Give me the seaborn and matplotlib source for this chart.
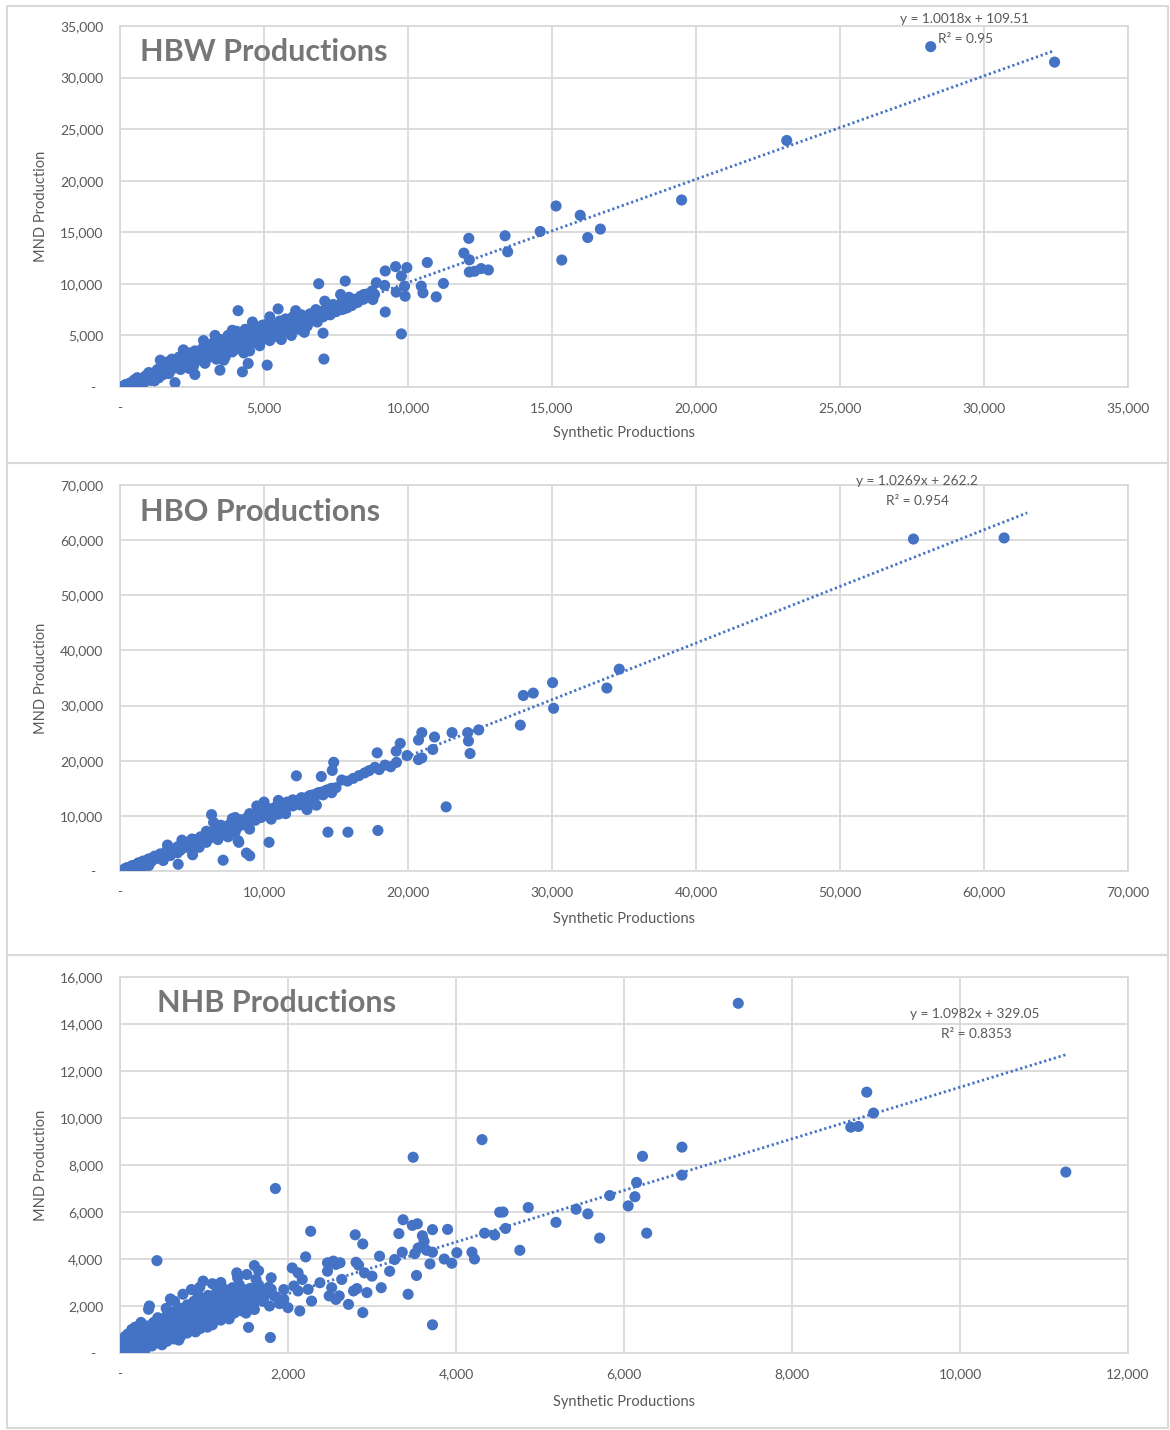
import matplotlib
matplotlib.use("Agg")
import matplotlib.pyplot as plt
import numpy as np
import pandas as pd
import seaborn as sns
from matplotlib.patches import Rectangle
from matplotlib.ticker import FuncFormatter, MultipleLocator

# ---------------------------------------------------------------------------
# Zone productions: synthetic model (x) versus MND observed (y)
# ---------------------------------------------------------------------------
hbw_points = [
    (28150, 33000), (32450, 31500), (23150, 23900), (19500, 18130), (15140, 17550),
    (15980, 16650), (16680, 15310), (16240, 14490), (14590, 15080), (15340, 12310),
    (13370, 14660), (13460, 13110), (12110, 14410), (11940, 12980), (12130, 12330),
    (12130, 11150), (12310, 11220), (12540, 11480), (12790, 11350), (10670, 12070),
    (11230, 10040), (10980, 8740), (10460, 9780), (10520, 9130), (9570, 11670),
    (9960, 11580), (9770, 10760), (9880, 9780), (9590, 9200), (9900, 8800),
    (9210, 11250), (9770, 5150), (9210, 7270), (8900, 10110), (9190, 9850),
    (8840, 8970), (8780, 8480), (8470, 8970), (7820, 10270), (6900, 10010),
    (7660, 8970), (7080, 2710), (7050, 5220), (7110, 8320), (4100, 7400),
    (5490, 7570), (5110, 2120), (4450, 2280), (4250, 1470), (3470, 1630),
    (2600, 1210), (1910, 420),
    (100, 80), (200, 250), (300, 150), (350, 400), (450, 300), (550, 550),
    (650, 420), (700, 750), (800, 600), (850, 950), (950, 800), (1000, 1150),
    (1050, 650), (1100, 1000), (1150, 1350), (1250, 1150), (1300, 1700),
    (1350, 900), (1400, 1400), (1450, 2000), (1500, 1200), (1550, 1650),
    (1600, 2400), (1650, 1900), (1700, 1300), (1750, 2200), (1800, 2700),
    (1850, 1800), (1900, 2450), (2000, 2100), (2050, 2900), (2100, 1700),
    (2150, 2500), (2200, 3100), (2250, 2200), (2300, 2800), (2400, 3300),
    (2450, 2500), (2500, 3000), (2550, 2000), (2600, 3500), (2650, 2800),
    (2700, 3200), (2800, 2600), (2850, 3700), (2900, 3100), (2950, 2300),
    (3000, 3400), (3050, 4000), (3100, 2900), (3150, 3600), (3200, 3200),
    (3250, 4300), (3300, 3700), (3350, 2700), (3400, 3900), (3450, 3300),
    (3500, 4600), (3550, 4100), (3600, 3500), (3650, 2900), (3700, 4200),
    (3750, 5000), (3800, 3800), (3850, 4400), (3900, 3400), (3950, 4800),
    (4000, 4100), (4050, 5400), (4100, 3700), (4150, 4500), (4200, 5100),
    (4250, 3900), (4300, 4700), (4350, 5600), (4400, 4200), (4450, 4900),
    (4500, 3500), (4550, 5300), (4600, 4600), (4650, 5800), (4700, 4300),
    (4750, 5000), (4800, 5500), (4850, 4000), (4900, 5200), (4950, 6000),
    (5000, 4700), (5050, 5500), (5100, 5100), (5150, 6200), (5200, 4500),
    (5250, 5700), (5300, 5300), (5400, 6000), (5450, 4900), (5500, 5600),
    (5550, 6400), (5600, 5200), (5700, 5900), (5750, 6600), (5800, 5400),
    (5900, 6200), (5950, 5000), (6000, 6800), (6050, 5800), (6150, 6400),
    (6200, 5600), (6300, 7000), (6350, 6100), (6450, 6600), (6500, 5900),
    (6600, 7100), (6650, 6400), (6750, 6900), (6800, 7500), (6850, 6300),
    (6950, 7200), (7050, 6800), (7150, 7600), (7250, 7100), (7350, 7400),
    (7400, 8000), (7500, 7300), (7600, 7800), (7700, 8200), (7800, 7600),
    (7900, 8100), (7950, 8700), (8050, 7900), (8150, 8500), (8250, 8200),
    (8350, 8800), (8450, 8500), (8550, 9000), (8650, 8700), (8750, 9300),
    (3300, 5000), (2900, 4500), (3900, 5500), (1400, 2600), (2200, 3600),
    (4600, 6300), (5200, 6800), (6100, 7400), (2400, 1800), (3600, 2600),
    (4300, 3300), (5600, 4600), (6400, 5300), (1200, 600), (800, 300),
    (500, 700), (700, 400), (900, 1100), (1100, 700), (1300, 1300), (1500, 1600),
    (1700, 2000), (1900, 1900), (2100, 2600), (2300, 2300), (2500, 2700),
    (2700, 2900), (2900, 2700), (3100, 3300), (3300, 3200), (3500, 3800),
    (3700, 3600), (3900, 4100), (4100, 4300), (4300, 4100), (4500, 4800),
    (4700, 4700), (4900, 4500), (5100, 5600), (5300, 4900), (5500, 5200),
    (5700, 5500), (5900, 5700), (6100, 6100), (6300, 6400), (6500, 6300),
    (6700, 6700), (6900, 6700), (7100, 7100), (7300, 7000), (7500, 7700),
    (7700, 7500), (7900, 7700), (8100, 8200), (8300, 8400), (8500, 8700),
    (600, 900), (1000, 1400), (1400, 1800), (1800, 2300), (2200, 2000),
    (2600, 2500), (3000, 3000), (3400, 3500), (3800, 4200), (4200, 4400),
    (4600, 5100), (5000, 5000), (5400, 5500), (5800, 6000), (6200, 6700),
    (6600, 6800), (7000, 7300),
]

hbo_points = [
    (61400, 60400), (55100, 60200), (34670, 36600), (33810, 33180), (30040, 34160),
    (30110, 29510), (28010, 31830), (28700, 32260), (27800, 26450), (24910, 25590),
    (24150, 25100), (24200, 23570), (24310, 21300), (23060, 25100), (21840, 24300),
    (20960, 25100), (20730, 23750), (21720, 22040), (20730, 20200), (20960, 20510),
    (22650, 11630), (19940, 20940), (19460, 23140), (19180, 21730), (17910, 7350),
    (15830, 7040), (14440, 7040), (17860, 21430), (14840, 19710), (14740, 18240),
    (12250, 17260), (13980, 17140), (14680, 15000), (12990, 11140), (13640, 11940),
    (10350, 5200), (8200, 5510), (8250, 5200), (8780, 3250), (9010, 2760),
    (7160, 1960), (4040, 1220), (5040, 2940), (6360, 10220),
    (200, 150), (400, 500), (600, 400), (800, 900), (1000, 700), (1200, 1300),
    (1400, 1000), (1600, 1800), (1800, 1500), (2000, 2200), (2200, 1800),
    (2400, 2700), (2600, 2300), (2800, 3100), (3000, 2700), (3200, 3500),
    (3400, 3000), (3600, 3900), (3800, 3400), (4000, 4400), (4200, 3800),
    (4400, 4800), (4600, 4300), (4800, 5300), (5000, 4700), (5200, 5700),
    (5400, 5100), (5600, 6200), (5800, 5500), (6000, 6600), (6200, 5900),
    (6400, 7000), (6600, 6300), (6800, 7500), (7000, 6800), (7200, 8000),
    (7400, 7200), (7600, 8400), (7800, 7600), (8000, 8800), (8200, 8000),
    (8400, 9300), (8600, 8400), (8800, 9600), (9000, 8900), (9200, 10000),
    (9400, 9200), (9600, 10500), (9800, 9700), (10000, 10900), (10200, 10100),
    (10400, 11300), (10600, 10600), (10800, 11600), (11000, 11000), (11200, 12100),
    (11400, 11400), (11600, 12500), (11800, 11900), (12000, 12900), (12300, 12400),
    (12600, 13300), (12900, 12800), (13200, 13700), (13500, 13300), (13800, 14200),
    (14100, 13800), (14400, 14700), (14700, 14200), (15000, 15100), (15400, 16500),
    (15800, 16300), (16200, 16800), (16600, 17300), (17000, 17800), (17300, 18200),
    (17700, 18800), (18000, 18400), (18400, 19200), (18800, 18900), (19200, 19700),
    (6500, 8800), (7800, 9500), (3300, 4700), (4300, 5600), (9500, 11800),
    (11000, 12800), (10000, 12500), (12000, 11800), (8000, 7100), (5500, 4300),
    (6800, 5700), (7500, 6200), (9000, 7600), (3000, 1900), (2000, 1000),
    (1500, 500), (10500, 9400), (11500, 10400), (13000, 11800),
    (300, 300), (500, 600), (700, 700), (900, 1000), (1100, 1100), (1300, 1500),
    (1500, 1400), (1700, 1700), (1900, 2000), (2100, 2100), (2300, 2400),
    (2500, 2500), (2700, 2800), (2900, 3000), (3100, 3100), (3300, 3400),
    (3500, 3500), (3700, 3800), (3900, 3900), (4100, 4200), (4300, 4400),
    (4500, 4600), (4700, 4800), (4900, 5000), (5100, 5300), (5300, 5400),
    (5500, 5700), (5700, 5900), (5900, 6100), (6100, 6300), (6300, 6500),
    (6500, 6700), (6700, 6900), (6900, 7200), (7100, 7300), (7300, 7600),
    (7500, 7800), (7700, 8000), (7900, 8200), (8100, 8400), (8300, 8700),
    (8500, 8800), (8700, 9100), (8900, 9200), (9100, 9500), (9300, 9700),
    (9500, 9800), (9700, 10100), (9900, 10300), (10100, 10500), (10300, 10700),
    (10500, 10900), (10700, 11100), (10900, 11300), (11100, 11500), (11300, 11800),
    (11500, 11900), (11700, 12200), (11900, 12300), (12200, 12700), (12500, 12900),
    (12800, 13200), (13100, 13500), (13400, 13800), (13700, 14100), (14000, 14300),
    (14300, 14600), (3500, 2800), (5000, 5800), (6000, 7200), (7000, 8300),
    (8000, 9700), (9000, 10400), (10000, 11500), (4000, 3300), (6000, 5200),
    (8000, 7600), (11000, 10300), (12500, 12000),
]

nhb_points = [
    (7360, 14880), (11260, 7700), (8890, 11100), (8970, 10210), (8700, 9610),
    (8790, 9640), (6690, 8760), (6690, 7570), (6270, 5100), (6220, 8370),
    (6150, 7260), (6130, 6650), (6050, 6260), (5830, 6700), (5710, 4890),
    (5570, 5920), (5430, 6120), (5190, 5560), (4860, 6190), (4520, 5990),
    (4560, 6000), (4590, 5300), (4340, 5100), (4460, 5020), (4760, 4370),
    (4190, 4290), (4220, 4000), (4010, 4270), (3900, 5260), (3950, 3820),
    (3860, 4000), (3720, 5250), (3720, 1200), (4310, 9080), (3490, 8330),
    (1850, 7000), (3370, 5670), (3480, 5430), (3540, 5500), (3320, 5080),
    (3600, 4990), (3620, 4750), (3550, 4470), (3650, 4370), (3720, 4290),
    (3510, 4230), (3360, 4290), (3270, 3980), (3690, 3790), (3530, 3300),
    (3430, 2500), (3210, 3480), (3090, 4120), (3110, 2780), (3000, 3270),
    (2910, 3410), (2940, 2570), (2800, 5030), (2890, 4640), (2890, 1720),
    (2810, 3860), (2840, 3740), (2780, 2640), (2820, 2740), (2720, 2070),
    (2620, 3840), (2640, 3130), (2470, 3840), (2540, 3910), (2570, 3770),
    (2470, 3480), (2520, 2780), (2490, 2430), (2610, 2430), (2570, 2280),
    (2380, 2990), (2270, 5180), (2210, 4090), (2240, 2710), (2280, 2210),
    (2140, 1790), (2050, 3620), (2120, 3410), (2170, 3130), (2070, 2850),
    (2120, 2640), (1950, 2280), (2000, 1930), (1800, 3200), (1800, 2710),
    (1790, 660), (1600, 3720), (1620, 3130), (1510, 3340), (1390, 3410),
    (1340, 2780), (990, 3060), (920, 2570), (440, 3930), (340, 1860),
    (1530, 1090),
    (30, 100), (60, 300), (80, 500), (100, 200), (120, 650), (150, 400),
    (180, 150), (200, 800), (220, 550), (250, 300), (260, 1000), (280, 700),
    (300, 450), (320, 1150), (340, 850), (360, 600), (380, 300), (400, 1300),
    (420, 1000), (440, 750), (460, 500), (480, 1450), (500, 1150), (520, 850),
    (540, 600), (560, 1600), (580, 1300), (600, 1000), (620, 700), (640, 1750),
    (660, 1450), (680, 1150), (700, 850), (720, 1900), (740, 1600), (760, 1300),
    (780, 1000), (800, 2050), (820, 1750), (840, 1450), (860, 1150), (880, 2200),
    (900, 1900), (920, 1600), (940, 1300), (960, 2350), (980, 2050), (1000, 1750),
    (1020, 1450), (1050, 2450), (1080, 2150), (1100, 1850), (1120, 1550),
    (1150, 2600), (1180, 2300), (1200, 2000), (1220, 1700), (1250, 2700),
    (1280, 2400), (1300, 2100), (1320, 1800), (1350, 2500), (1380, 2200),
    (1400, 1900), (1420, 2900), (1450, 2600), (1480, 2300), (1500, 2000),
    (1550, 2750), (1580, 2450), (1600, 2150), (1650, 2900), (1680, 2500),
    (1700, 2200), (1750, 2600), (1780, 2000), (1850, 2400), (1900, 2100),
    (1950, 2700), (150, 900), (250, 1300), (350, 1100), (450, 1500), (550, 1900),
    (650, 2200), (750, 2500), (850, 2700), (950, 2800), (300, 150), (500, 350),
    (700, 550), (900, 900), (1100, 1200), (1300, 1450), (1500, 1700), (50, 50),
    (120, 150), (200, 100), (90, 800), (350, 2000), (600, 2300), (1100, 2950),
    (1200, 3000), (1650, 3500), (1400, 3200),
    (40, 250), (70, 150), (100, 450), (130, 300), (160, 600), (190, 350),
    (210, 500), (230, 750), (270, 500), (290, 900), (310, 650), (330, 400),
    (370, 800), (390, 1150), (410, 550), (430, 900), (470, 1200), (490, 700),
    (510, 1000), (530, 1350), (550, 800), (570, 1100), (590, 1500), (610, 850),
    (630, 1200), (650, 1600), (670, 950), (690, 1300), (710, 1700), (730, 1100),
    (750, 1400), (770, 1800), (790, 1200), (810, 1550), (830, 1900), (850, 1300),
    (870, 1650), (890, 2000), (910, 1400), (930, 1750), (950, 2100), (970, 1500),
    (990, 1850), (1010, 2200), (1030, 1600), (1060, 1950), (1090, 2300),
    (1110, 1700), (1140, 2050), (1170, 2400), (1190, 1800), (1230, 2150),
    (1260, 2500), (1290, 1900), (1330, 2300), (1360, 2650), (1390, 2000),
    (1430, 2400), (1470, 2700), (1520, 2200), (1560, 2550), (1620, 2350),
    (1670, 2700), (1720, 2400), (1770, 2800), (20, 400), (40, 600), (60, 700),
    (140, 1000), (180, 1100), (240, 1200), (110, 100), (160, 200), (230, 200),
    (280, 250), (330, 350), (400, 450), (480, 400), (560, 500), (640, 600),
    (720, 700), (800, 850), (880, 950), (960, 1050), (1040, 1100), (1120, 1350),
    (1200, 1400), (1280, 1600), (1360, 1700), (1440, 1800), (1520, 1900),
    (1600, 1850),
]

panel_titles = ["HBW Productions", "HBO Productions", "NHB Productions"]
trend_slopes = [1.0018, 1.0269, 1.0982]
trend_intercepts = [109.51, 262.2, 329.05]
trend_r2 = ["0.95", "0.954", "0.8353"]
trend_forward = [0, 1600, 0]
axis_max = [35000, 70000, 16000]
x_axis_max = [35000, 70000, 12000]
tick_steps_y = [5000, 10000, 2000]
tick_steps_x = [5000, 10000, 2000]

# ---------------------------------------------------------------------------
W, H = 1170, 1430
sns.set_theme(style="white")
plt.rcParams["font.family"] = ["Lato", "DejaVu Sans"]

fig = plt.figure(figsize=(W / 100, H / 100), dpi=100)
fig.patch.set_facecolor("white")

DOT = "#4472C4"
GRID = "#d9d9d9"
TXT = "#595959"
TITLE = "#767676"


def px_rect(l, t, r, b):
    return [l / W, 1 - b / H, (r - l) / W, (b - t) / H]


def fx(x):
    return x / W


def fy(y):
    return 1 - y / H


axes_boxes = [(120, 26, 1128, 387), (120, 485, 1128, 871), (120, 977, 1128, 1353)]
frame_boxes = [(7, 6, 1168, 463), (7, 463, 1168, 955), (7, 955, 1168, 1428)]
title_pos = [(0.020, 0.928), (0.020, 0.930), (0.037, 0.931)]
eq_pos = [((964, 19), (965, 39)), ((917, 481), (917, 501)), ((975, 1014), (976, 1034))]
xlabel_y = [-0.1275, -0.125, -0.13]


def thousands(v, _pos):
    if abs(v) < 1e-9:
        return "-"
    return f"{int(round(v)):,}"


def thousands_y(v, _pos):
    if abs(v) < 1e-9:
        return "-  "
    return f"{int(round(v)):,}"


for frame in frame_boxes:
    l, t, r, b = frame
    fig.patches.append(Rectangle((fx(l), fy(b)), (r - l) / W, (b - t) / H,
                                 transform=fig.transFigure, fill=False,
                                 edgecolor=GRID, linewidth=1.5))

datasets = [hbw_points, hbo_points, nhb_points]

for i, pts in enumerate(datasets):
    df = pd.DataFrame(pts, columns=["synthetic", "mnd"])
    ax = fig.add_axes(px_rect(*axes_boxes[i]))
    ax.set_facecolor("white")

    sns.scatterplot(data=df, x="synthetic", y="mnd", ax=ax, color=DOT,
                    s=64, edgecolor="none", linewidth=0, zorder=3)

    # linear trendline from the fitted equation
    x0 = df["synthetic"].min()
    x1 = df["synthetic"].max() + trend_forward[i]
    tx = np.array([x0, x1])
    ty = trend_slopes[i] * tx + trend_intercepts[i]
    ax.plot(tx, ty, color=DOT, linewidth=2.0, linestyle=(0, (0.8, 1.0)),
            dash_capstyle="butt", zorder=4)

    ax.set_xlim(0, x_axis_max[i])
    ax.set_ylim(0, axis_max[i])
    ax.xaxis.set_major_locator(MultipleLocator(tick_steps_x[i]))
    ax.yaxis.set_major_locator(MultipleLocator(tick_steps_y[i]))
    ax.xaxis.set_major_formatter(FuncFormatter(thousands))
    ax.yaxis.set_major_formatter(FuncFormatter(thousands_y))
    ax.grid(True, color=GRID, linewidth=1.3, zorder=0)
    ax.set_axisbelow(True)
    for sp in ax.spines.values():
        sp.set_color(GRID)
        sp.set_linewidth(1.3)
    ax.tick_params(axis="both", length=0, labelsize=10, labelcolor=TXT)
    ax.tick_params(axis="y", pad=12)
    ax.tick_params(axis="x", pad=11)

    ax.set_xlabel("Synthetic Productions", fontsize=10.5, color=TXT)
    ax.set_ylabel("MND Production", fontsize=10.5, color=TXT)
    ax.xaxis.label.set_va("center")
    ax.yaxis.label.set_va("center")
    ax.xaxis.set_label_coords(0.5, xlabel_y[i])
    ax.yaxis.set_label_coords(-0.0784, 0.5)

    ax.text(title_pos[i][0], title_pos[i][1], panel_titles[i],
            transform=ax.transAxes, ha="left", va="center",
            fontsize=22, fontweight="bold", color=TITLE)

    (ex, ey), (rx, ry) = eq_pos[i]
    fig.text(fx(ex), fy(ey),
             f"y = {trend_slopes[i]:.4f}x + {trend_intercepts[i]:g}",
             ha="center", va="center", fontsize=9.8, color=TXT)
    fig.text(fx(rx), fy(ry), f"R\u00b2 = {trend_r2[i]}",
             ha="center", va="center", fontsize=9.8, color=TXT)

fig.savefig("out.png", dpi=100, facecolor="white")
